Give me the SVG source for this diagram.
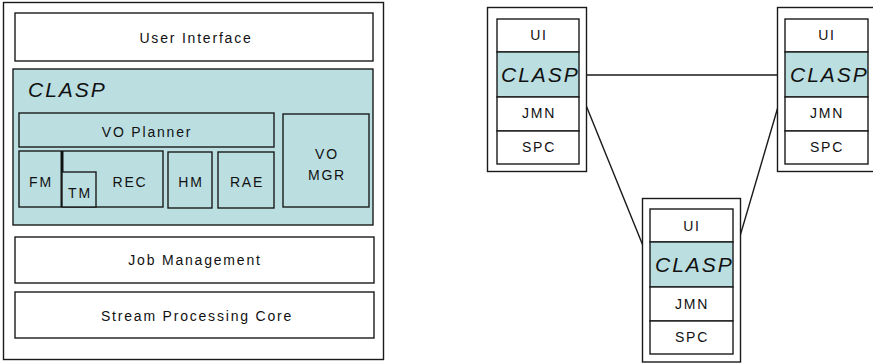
<svg xmlns="http://www.w3.org/2000/svg" width="873" height="363" viewBox="0 0 873 363">
<style>
.box{fill:#ffffff;stroke:#1a1a1a;stroke-width:1.4}
.teal{fill:#bbdfe1;stroke:#1a1a1a;stroke-width:1.4}
.t{font-family:"Liberation Sans",Arial,sans-serif;font-size:14px;fill:#111;text-anchor:middle;letter-spacing:1.8px}
.c{font-family:"Liberation Sans",Arial,sans-serif;font-size:21px;font-style:italic;fill:#111;letter-spacing:2px}
.conn{stroke:#1a1a1a;stroke-width:1.4;fill:none}
</style>
<rect width="873" height="363" fill="#ffffff"/>

<g id="stack">
<rect class="box" x="3.5" y="2.5" width="380" height="357"/>
<g id="user-interface">
<rect class="box" x="15" y="13" width="358" height="48"/>
<text class="t" x="196" y="43">User Interface</text>
</g>
<g id="clasp">
<rect class="teal" x="13" y="69" width="360" height="156"/>
<text class="c" x="28" y="97">CLASP</text>
<g id="vo-planner">
<rect class="teal" x="19" y="113" width="255" height="34"/>
<text class="t" x="147" y="137">VO Planner</text>
</g>
<g id="vo-mgr">
<rect class="teal" x="283" y="114" width="86" height="93"/>
<text class="t" x="327" y="159">VO</text>
<text class="t" x="327" y="180">MGR</text>
</g>
<g id="fm-rec">
<rect class="teal" x="19" y="151" width="144" height="56"/>
<line x1="62" y1="151" x2="62" y2="207" stroke="#111" stroke-width="3"/>
<text class="t" x="41" y="187">FM</text>
<text class="t" x="130" y="187">REC</text>
</g>
<g id="tm">
<rect class="teal" x="62" y="172" width="34" height="35"/>
<text class="t" x="80" y="198">TM</text>
</g>
<g id="hm">
<rect class="teal" x="168" y="152" width="44" height="56"/>
<text class="t" x="191" y="187">HM</text>
</g>
<g id="rae">
<rect class="teal" x="218" y="152" width="56" height="56"/>
<text class="t" x="247" y="187">RAE</text>
</g>
</g>
<g id="job-management">
<rect class="box" x="15" y="237" width="359" height="46"/>
<text class="t" x="195" y="265">Job Management</text>
</g>
<g id="stream-processing-core">
<rect class="box" x="15" y="292" width="359" height="46"/>
<text class="t" x="197" y="321">Stream Processing Core</text>
</g>
</g>

<g id="connectors">
<line class="conn" x1="579" y1="75" x2="785" y2="75"/>
<line class="conn" x1="579" y1="88" x2="650" y2="263"/>
<line class="conn" x1="733" y1="260" x2="785" y2="83"/>
</g>

<g id="node1">
<rect class="box" x="487.5" y="7.5" width="99" height="164"/>
<rect class="box" x="497" y="19" width="82" height="33"/>
<rect class="teal" x="497" y="52" width="82" height="45"/>
<rect class="box" x="497" y="97" width="82" height="34"/>
<rect class="box" x="497" y="131" width="82" height="33"/>
<text class="t" x="539" y="40">UI</text>
<text class="c" x="501" y="82">CLASP</text>
<text class="t" x="539" y="118">JMN</text>
<text class="t" x="539" y="152">SPC</text>
</g>

<g id="node2">
<rect class="box" x="777.5" y="7.5" width="100" height="164"/>
<rect class="box" x="785" y="19" width="83" height="33"/>
<rect class="teal" x="785" y="52" width="83" height="45"/>
<rect class="box" x="785" y="97" width="83" height="34"/>
<rect class="box" x="785" y="131" width="83" height="33"/>
<text class="t" x="827" y="40">UI</text>
<text class="c" x="790" y="82">CLASP</text>
<text class="t" x="827" y="118">JMN</text>
<text class="t" x="827" y="152">SPC</text>
</g>

<g id="node3">
<rect class="box" x="642.5" y="198.5" width="98" height="163.5"/>
<rect class="box" x="650" y="209" width="83" height="33"/>
<rect class="teal" x="650" y="242" width="83" height="45"/>
<rect class="box" x="650" y="287" width="83" height="34"/>
<rect class="box" x="650" y="321" width="83" height="33"/>
<text class="t" x="692" y="231">UI</text>
<text class="c" x="655" y="272">CLASP</text>
<text class="t" x="692" y="309">JMN</text>
<text class="t" x="692" y="342">SPC</text>
</g>
</svg>
